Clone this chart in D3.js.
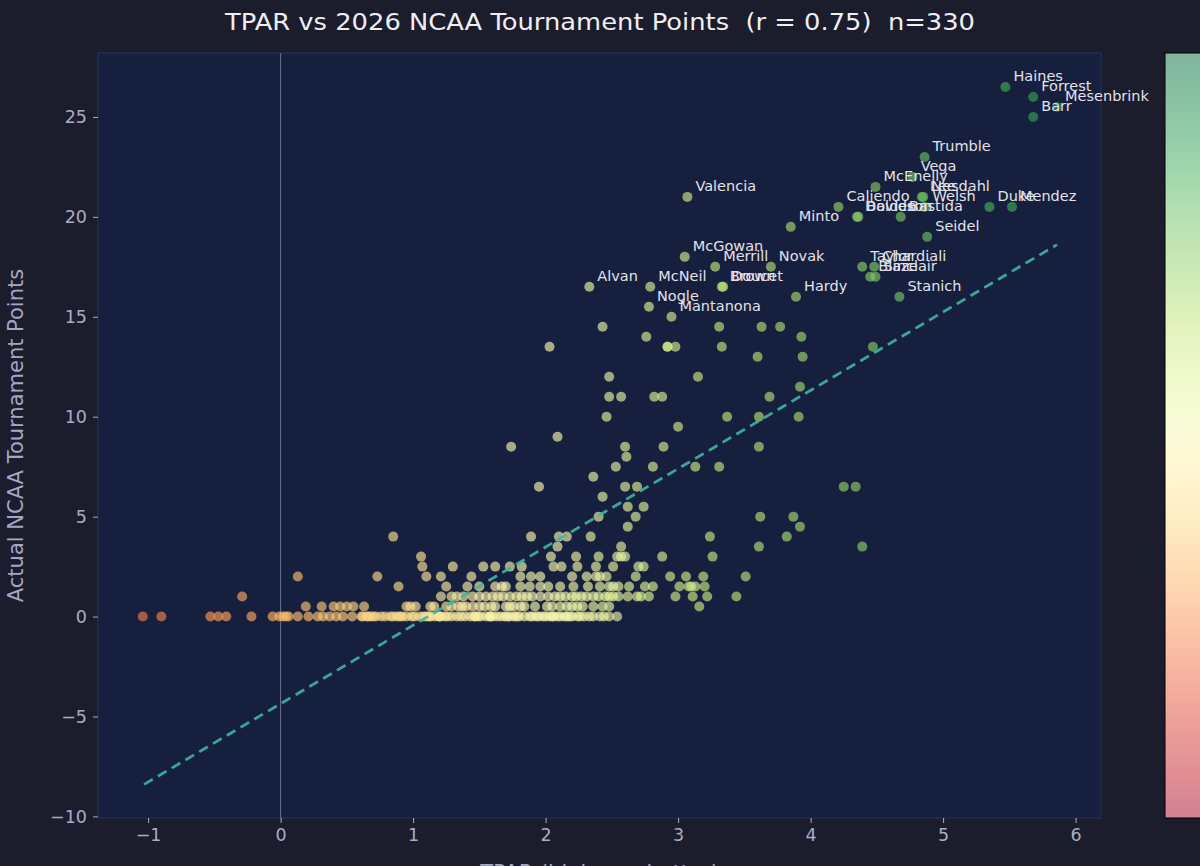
<!DOCTYPE html>
<html><head><meta charset="utf-8">
<script src="https://cdn.jsdelivr.net/npm/d3@7"></script>
<style>html,body{margin:0;padding:0;background:#1b1c2c;} svg{display:block;} .pre{white-space:pre;}</style>
</head><body><svg id="c" width="1200" height="866"></svg>
<script>
// ---------- data ----------
const titleText = "TPAR vs 2026 NCAA Tournament Points  (r = 0.75)  n=330";
const xLabel = "TPAR (higher = better)";
const yLabel = "Actual NCAA Tournament Points";
const xTicks = [-1, 0, 1, 2, 3, 4, 5, 6];
const yTicks = [-10, -5, 0, 5, 10, 15, 20, 25];

const labelNames = ["Haines","Forrest","Mesenbrink","Barr","Trumble","Vega","McEnelly","Lee","Nesdahl","Welsh",
  "Caliendo","Davidson","Bolden","Bastida","Duke","Mendez","Seidel","Minto","Valencia","McGowan",
  "Merrill","Novak","Alvan","McNeil","Brown","Doucet","Nogle","Mantanona","Hardy","Stanich",
  "Taylor","Chardiali","Blaze","Sinclair"];
const labelTpar = [5.47,5.68,5.86,5.68,4.86,4.77,4.49,4.84,4.85,4.86,
  4.21,4.35,4.36,4.68,5.35,5.52,4.88,3.85,3.07,3.05,
  3.28,3.70,2.33,2.79,3.33,3.34,2.78,2.95,3.89,4.67,
  4.39,4.48,4.45,4.49];
const labelPts = [26.5,26,25.5,25,23,22,21.5,21,21,20.5,
  20.5,20,20,20,20.5,20.5,19,19.5,21,18,
  17.5,17.5,16.5,16.5,16.5,16.5,15.5,15,16,16,
  17.5,17.5,17,17];

// unlabeled players: TPAR values grouped by tournament points
const ptsLevels = [0,0.5,1,1.5,2,2.5,3,3.5,4,4.5,5,5.5,6,6.5,7,7.5,8,8.5,9,9.5,10,11,11.5,12,13,13.5,14,14.5];
const tparByLevel = [
  [-1.04,-0.90,-0.53,-0.47,-0.41,-0.22,-0.06,-0.01,0.04,0.13,0.21,0.28,0.37,0.47,0.54,0.61,0.65,0.70,0.79,0.85,
   0.92,0.99,1.05,1.13,1.21,1.29,1.36,1.43,1.51,1.58,1.66,1.73,1.80,1.88,1.95,2.03,2.11,2.18,2.26,2.33,2.41,2.48,2.54,
   0.62,0.66,0.68,0.72,0.76,0.83,0.88,0.90,0.95,1.01,1.08,1.10,1.16,1.19,1.24,1.26,1.33,1.39,1.46,1.49,1.55,1.60,
   1.63,1.69,1.76,1.78,1.84,1.90,1.93,1.98,2.00,2.05,2.09,2.14,2.16,2.20,2.24,2.29,2.36,2.44,0.02,0.06,0.32,0.42,
   1.12,1.47,1.71,2.06,1.20,1.58],
  [0.19,0.31,0.40,0.45,0.50,0.55,0.63,0.95,1.02,1.13,1.25,1.29,1.34,1.40,1.50,1.54,1.59,1.70,1.73,1.81,1.92,2.01,
   2.11,2.20,2.28,2.36,2.43,2.48,3.16,0.98,1.16,1.37,1.62,1.84,2.05,2.16,2.24,1.45,1.76],
  [-0.29,1.21,1.29,1.38,1.45,1.50,1.60,1.68,1.73,1.82,1.86,1.96,2.07,2.11,2.20,2.23,2.31,2.40,2.45,2.51,2.55,2.62,
   2.69,2.72,2.78,2.98,3.11,3.22,3.44,1.33,1.55,1.78,1.90,2.02,2.15,2.27,2.36,1.64,2.48],
  [0.89,1.25,1.41,1.50,1.62,1.67,1.70,1.81,1.88,1.96,2.02,2.11,2.21,2.32,2.41,2.48,2.51,2.55,2.63,2.75,2.81,3.01,
   3.08,3.10,3.13,3.20],
  [0.13,0.73,1.10,1.21,1.44,1.81,1.89,1.96,2.20,2.31,2.38,2.41,2.46,2.68,2.94,3.06,3.19,3.51],
  [1.07,1.30,1.53,1.62,1.73,1.82,2.06,2.12,2.24,2.38,2.51,2.70,2.74],
  [1.06,2.04,2.23,2.40,2.54,2.57,2.60,2.88,3.26],
  [2.09,2.57,3.61,4.39],
  [0.85,1.89,2.10,2.16,2.34,3.24,3.82],
  [2.62,3.92],
  [2.40,2.68,3.62,3.87],
  [2.62,2.74],
  [2.43],
  [1.95,2.60,2.69,4.25,4.34],
  [2.36],
  [2.53,2.81,3.13,3.31],
  [2.61],
  [1.74,2.60,2.89,3.61],
  [2.09],
  [3.00],
  [2.46,3.37,3.61,3.91],
  [2.48,2.57,2.82,2.88,3.69],
  [3.92],
  [2.48,3.15],
  [3.60,3.94],
  [2.03,2.92,2.92,2.98,3.33,4.47],
  [2.76,3.93],
  [2.43,3.31,3.63,3.77]
];
// fitted trend line
const fitX = [-1.03, 5.86];
const fitSlope = 3.92;
const fitIntercept = -4.36;
const colorDomain = [-3.4, 1.9, 7.0];

// ---------- build ----------
const players = [];
ptsLevels.forEach((p, i) => tparByLevel[i].forEach(t => players.push({tpar: t, pts: p, name: ""})));
labelNames.forEach((n, i) => players.push({tpar: labelTpar[i], pts: labelPts[i], name: n}));

const svg = d3.select("#c");
const W = 1200, H = 866;
const L = 98, R = 1101, T = 53, B = 818;

svg.append("rect").attr("width", W).attr("height", H).attr("fill", "#1b1c2c");

const x = d3.scaleLinear().domain([(L - 280.6) / 132.5, (R - 280.6) / 132.5]).range([L, R]);
const y = d3.scaleLinear().domain([-10.08, 28.2]).range([B, T]);
const cnorm = d3.scaleLinear().domain(colorDomain).range([0, 0.5, 1]).clamp(true);
const color = v => d3.interpolateRdYlGn(cnorm(v));

svg.append("rect").attr("x", L).attr("y", T).attr("width", R - L).attr("height", B - T)
  .attr("fill", "#161f3d").attr("stroke", "#2d3459").attr("stroke-width", 1);

// x = 0 reference line
svg.append("line").attr("x1", x(0)).attr("x2", x(0)).attr("y1", T).attr("y2", B)
  .attr("stroke", "#8088a8").attr("stroke-width", 1).attr("opacity", 0.8);

// points
const g = svg.append("g");
g.selectAll("circle").data(players).join("circle")
  .attr("cx", d => x(d.tpar)).attr("cy", d => y(d.pts)).attr("r", 5)
  .attr("fill", d => color(d.tpar)).attr("fill-opacity", 0.65);

// trend line
svg.append("line")
  .attr("x1", x(fitX[0])).attr("y1", y(fitIntercept + fitSlope * fitX[0]))
  .attr("x2", x(fitX[1])).attr("y2", y(fitIntercept + fitSlope * fitX[1]))
  .attr("stroke", "#3fb5a4").attr("stroke-width", 2.8).attr("stroke-dasharray", "10,6").attr("opacity", 0.9);

// labels
svg.append("g").selectAll("text").data(players.filter(d => d.name)).join("text")
  .attr("x", d => x(d.tpar) + 8).attr("y", d => y(d.pts) - 6)
  .attr("fill", "#e2e2ea").attr("font-family", "DejaVu Sans").attr("font-size", 14.5)
  .text(d => d.name);

// axes
const ax = svg.append("g").attr("transform", `translate(0,${B})`)
  .call(d3.axisBottom(x).tickValues(xTicks).tickSize(5).tickPadding(6).tickFormat(d => d < 0 ? "\u2212" + Math.abs(d) : d));
const ay = svg.append("g").attr("transform", `translate(${L},0)`)
  .call(d3.axisLeft(y).tickValues(yTicks).tickSize(5).tickPadding(6).tickFormat(d => d < 0 ? "\u2212" + Math.abs(d) : d));
[ax, ay].forEach(a => {
  a.select(".domain").remove();
  a.selectAll("line").attr("stroke", "#a9adc8");
  a.selectAll("text").attr("fill", "#a9adc8").attr("font-family", "DejaVu Sans").attr("font-size", 17.5);
});

// titles
svg.append("text").attr("class", "pre").attr("x", 600).attr("y", 30).attr("text-anchor", "middle")
  .attr("fill", "#eeeef4").attr("font-family", "DejaVu Sans").attr("font-size", 23)
  .attr("textLength", 750).attr("lengthAdjust", "spacingAndGlyphs").text(titleText);
svg.append("text").attr("transform", `translate(23,${(T + B) / 2}) rotate(-90)`).attr("text-anchor", "middle")
  .attr("fill", "#a3a7c6").attr("font-family", "DejaVu Sans").attr("font-size", 21).text(yLabel);
svg.append("text").attr("x", (L + R) / 2).attr("y", 880).attr("text-anchor", "middle")
  .attr("fill", "#a3a7c6").attr("font-family", "DejaVu Sans").attr("font-size", 21).text(xLabel);

// colorbar
const defs = svg.append("defs");
const grad = defs.append("linearGradient").attr("id", "cb").attr("x1", 0).attr("y1", 1).attr("x2", 0).attr("y2", 0);
d3.range(0, 1.0001, 0.05).forEach(s => {
  const c = d3.interpolateRgb(d3.interpolateRdYlGn(s), "#ffffff")(0.5);
  grad.append("stop").attr("offset", s).attr("stop-color", c);
});
svg.append("rect").attr("x", 1165).attr("y", T).attr("width", 70).attr("height", B - T)
  .attr("fill", "url(#cb)").attr("stroke", "#000").attr("stroke-width", 1);
</script></body></html>
